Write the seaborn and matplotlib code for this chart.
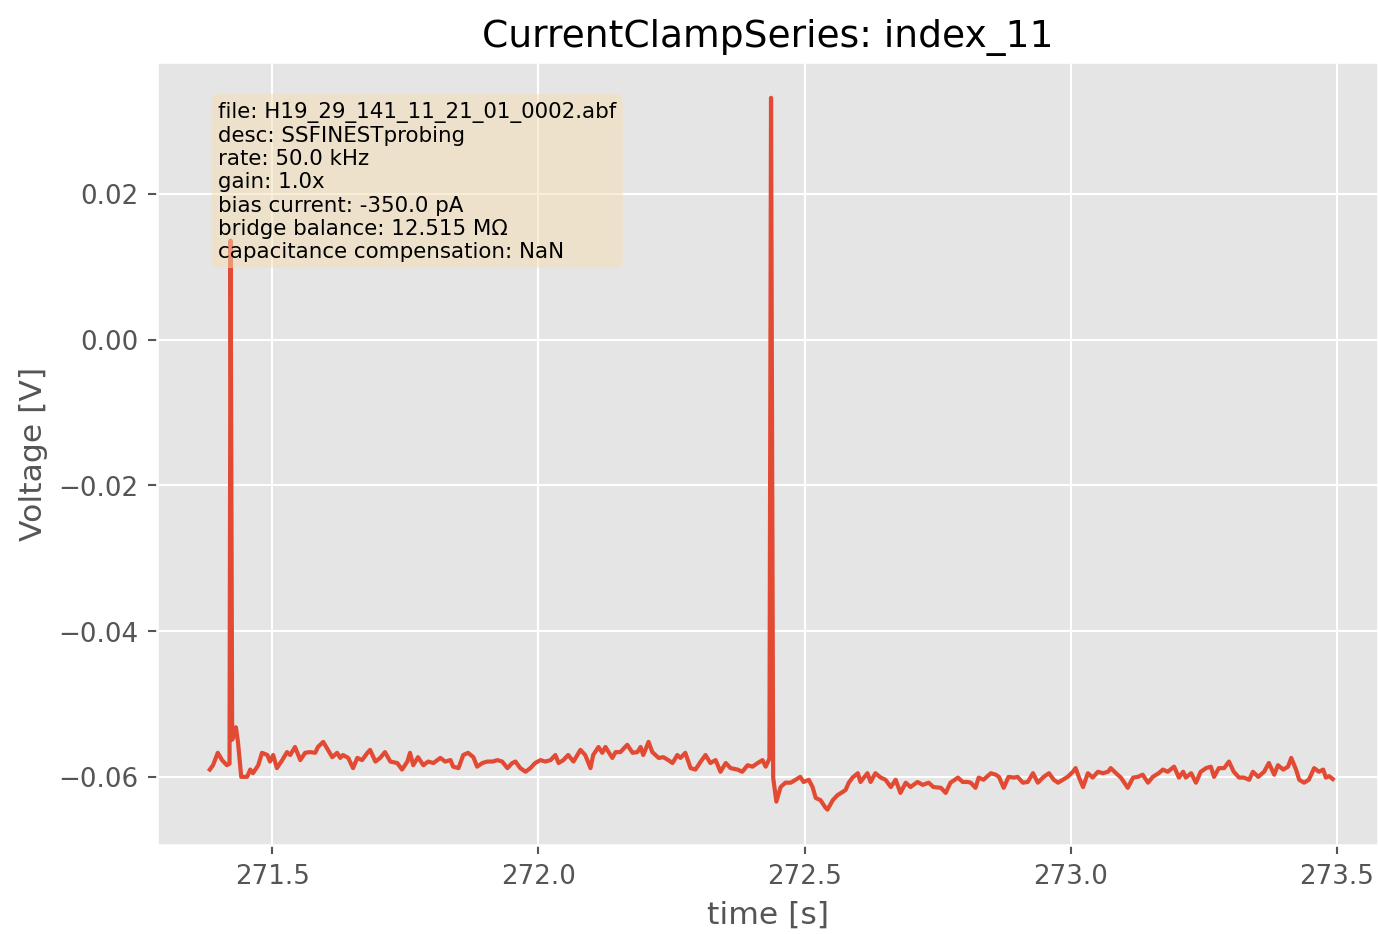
import matplotlib
matplotlib.use('Agg')
import matplotlib.pyplot as plt
import pandas as pd
import seaborn as sns

# trace (time in s, membrane voltage in mV)
time_s = [
    271.383, 271.389, 271.398, 271.406, 271.415, 271.420, 271.422, 271.425, 271.432, 271.436,
    271.442, 271.453, 271.459, 271.464, 271.474, 271.481, 271.491, 271.496, 271.502, 271.509,
    271.519, 271.528, 271.534, 271.543, 271.553, 271.562, 271.571, 271.581, 271.586, 271.596,
    271.605, 271.613, 271.622, 271.628, 271.633, 271.643, 271.652, 271.660, 271.669, 271.679,
    271.684, 271.694, 271.703, 271.712, 271.722, 271.735, 271.744, 271.754, 271.759, 271.765,
    271.774, 271.784, 271.793, 271.803, 271.816, 271.825, 271.835, 271.840, 271.850, 271.859,
    271.868, 271.878, 271.885, 271.895, 271.904, 271.914, 271.923, 271.932, 271.942, 271.951,
    271.957, 271.966, 271.976, 271.985, 271.994, 272.004, 272.013, 272.023, 272.032, 272.038,
    272.047, 272.056, 272.066, 272.079, 272.088, 272.098, 272.103, 272.113, 272.120, 272.126,
    272.139, 272.145, 272.154, 272.167, 272.177, 272.186, 272.192, 272.197, 272.207, 272.214,
    272.226, 272.235, 272.244, 272.252, 272.261, 272.267, 272.276, 272.286, 272.295, 272.305,
    272.314, 272.323, 272.333, 272.342, 272.352, 272.361, 272.374, 272.383, 272.393, 272.402,
    272.412, 272.421, 272.427, 272.434, 272.437, 272.441, 272.447, 272.455, 272.464, 272.474,
    272.483, 272.492, 272.498, 272.508, 272.515, 272.521, 272.530, 272.539, 272.543, 272.553,
    272.562, 272.571, 272.577, 272.583, 272.590, 272.600, 272.605, 272.618, 272.624, 272.633,
    272.643, 272.652, 272.662, 272.671, 272.680, 272.690, 272.699, 272.712, 272.722, 272.733,
    272.742, 272.756, 272.765, 272.774, 272.788, 272.797, 272.806, 272.812, 272.821, 272.827,
    272.836, 272.850, 272.859, 272.865, 272.874, 272.883, 272.893, 272.900, 272.910, 272.919,
    272.929, 272.938, 272.949, 272.959, 272.968, 272.976, 272.985, 272.994, 273.004, 273.009,
    273.015, 273.023, 273.032, 273.041, 273.051, 273.060, 273.070, 273.075, 273.085, 273.094,
    273.107, 273.117, 273.126, 273.135, 273.145, 273.154, 273.165, 273.173, 273.182, 273.194,
    273.203, 273.211, 273.216, 273.226, 273.235, 273.244, 273.254, 273.263, 273.269, 273.278,
    273.288, 273.297, 273.306, 273.316, 273.325, 273.335, 273.342, 273.352, 273.363, 273.372,
    273.382, 273.389, 273.399, 273.408, 273.414, 273.423, 273.429, 273.438, 273.447, 273.457,
    273.466, 273.474, 273.479, 273.485, 273.492,
]
voltage_mv = [
    -59.0, -58.4, -56.7, -57.7, -58.4, -58.2, 13.6, -54.9, -53.2, -55.3,
    -60.0, -60.0, -59.0, -59.5, -58.4, -56.7, -57.0, -57.9, -57.0, -58.8,
    -57.7, -56.6, -57.0, -55.9, -57.7, -56.7, -56.6, -56.7, -55.9, -55.2,
    -56.3, -57.3, -56.7, -57.4, -57.0, -57.4, -58.8, -57.4, -57.7, -56.7,
    -56.3, -57.9, -57.4, -56.6, -57.9, -58.1, -59.0, -57.9, -56.7, -58.4,
    -57.3, -58.4, -57.9, -58.1, -57.4, -57.9, -57.7, -58.6, -58.8, -57.0,
    -56.7, -57.3, -58.6, -58.1, -57.9, -57.9, -57.7, -57.9, -58.8, -58.1,
    -57.9, -58.8, -59.3, -58.8, -58.1, -57.7, -57.9, -57.7, -57.0, -58.1,
    -57.7, -57.0, -57.9, -56.3, -57.0, -58.8, -57.0, -55.9, -56.7, -55.9,
    -57.4, -56.6, -56.6, -55.6, -56.7, -56.6, -55.9, -57.0, -55.2, -56.6,
    -57.4, -57.3, -57.7, -58.1, -57.0, -57.4, -56.7, -58.8, -59.0, -57.9,
    -57.0, -58.1, -57.7, -59.3, -58.1, -58.8, -59.0, -59.3, -58.4, -58.6,
    -58.1, -57.7, -58.6, -57.5, 33.2, -60.1, -63.4, -61.4, -60.8, -60.8,
    -60.4, -60.0, -60.7, -60.4, -61.4, -62.9, -63.2, -64.2, -64.5, -63.2,
    -62.5, -62.1, -61.8, -60.8, -60.1, -59.5, -60.7, -59.5, -60.7, -59.5,
    -60.1, -60.4, -61.4, -60.4, -62.2, -60.8, -61.4, -60.7, -61.1, -60.8,
    -61.4, -61.5, -62.2, -60.8, -60.1, -60.7, -60.7, -60.8, -61.5, -60.1,
    -60.4, -59.5, -59.7, -60.0, -61.5, -60.0, -60.1, -60.0, -60.8, -60.7,
    -59.5, -60.8, -60.0, -59.5, -60.4, -60.8, -60.4, -60.0, -59.3, -58.8,
    -60.0, -61.4, -59.5, -60.1, -59.3, -59.5, -59.3, -58.8, -59.5, -60.1,
    -61.5, -60.1, -60.0, -59.7, -60.8, -60.0, -59.5, -59.0, -59.3, -58.6,
    -60.1, -59.3, -60.1, -59.5, -60.8, -59.3, -58.8, -58.6, -60.0, -58.8,
    -58.8, -57.9, -59.3, -60.1, -60.1, -60.4, -59.3, -60.0, -59.3, -58.1,
    -59.7, -58.4, -59.0, -58.6, -57.4, -59.0, -60.4, -60.8, -60.4, -58.8,
    -59.3, -59.0, -60.1, -59.9, -60.3,
]

info_lines = [
    'file: H19_29_141_11_21_01_0002.abf',
    'desc: SSFINESTprobing',
    'rate: 50.0 kHz',
    'gain: 1.0x',
    'bias current: -350.0 pA',
    'bridge balance: 12.515 M\u03a9',
    'capacitance compensation: NaN',
]

df = pd.DataFrame({'time': time_s, 'voltage': [v / 1000 for v in voltage_mv]})

plt.style.use('ggplot')
fig = plt.figure(figsize=(7.33, 4.97), dpi=188)
ax = fig.add_axes([0.114, 0.095, 0.886, 0.838])

sns.lineplot(data=df, x='time', y='voltage', ax=ax, estimator=None,
             color='#E24A33', linewidth=1.6)

ax.set_xlim(271.284, 273.577)

ax.text(0.05, 0.95, '\n'.join(info_lines), transform=ax.transAxes,
        fontsize=8.2, va='top',
        bbox=dict(boxstyle='round', facecolor='wheat', alpha=0.5, edgecolor='none'))

ax.set_title('CurrentClampSeries: index_11')
ax.set_xlabel('time [s]')
ax.set_ylabel('Voltage [V]')

fig.savefig('out.png', dpi=188)
